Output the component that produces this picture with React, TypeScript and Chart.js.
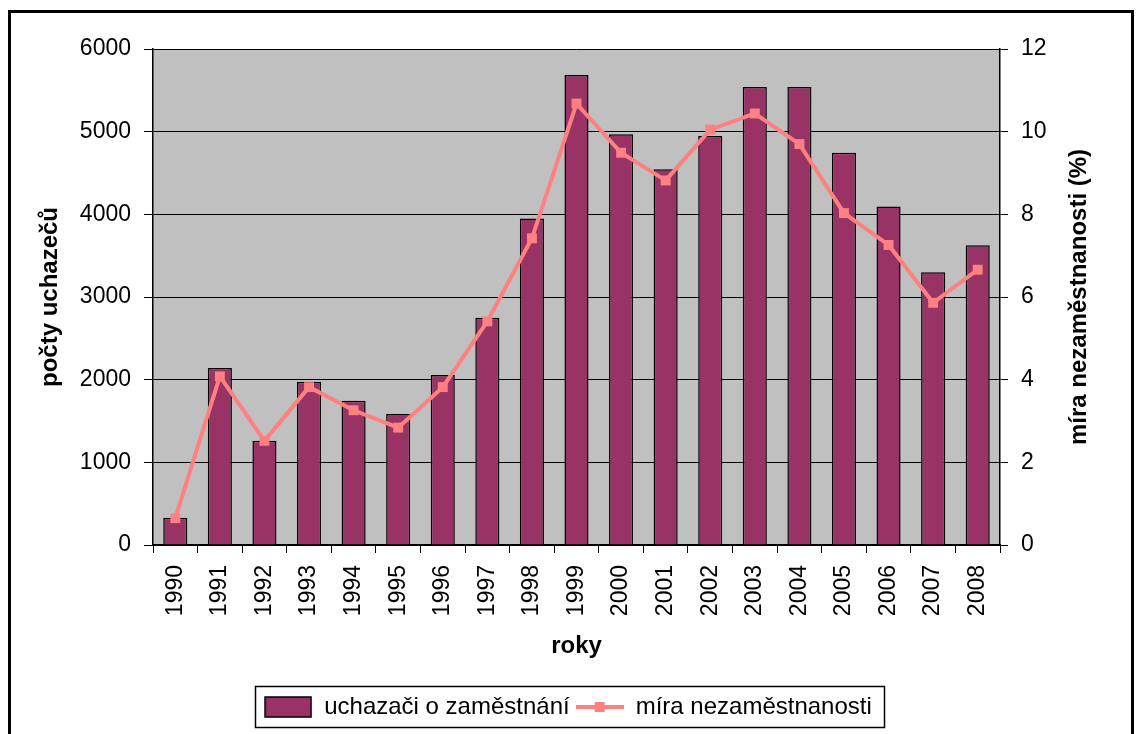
import React, { useEffect, useRef } from "react";
import { Chart, registerables } from "chart.js";

Chart.register(...registerables);

const years = ["1990", "1991", "1992", "1993", "1994", "1995", "1996", "1997", "1998", "1999", "2000", "2001", "2002", "2003", "2004", "2005", "2006", "2007", "2008"];
const applicants = [330, 2140, 1260, 1975, 1745, 1585, 2055, 2750, 3950, 5685, 4968, 4545, 4948, 5540, 5540, 4745, 4095, 3300, 3625];
const unemploymentRate = [0.65, 4.08, 2.52, 3.82, 3.26, 2.84, 3.82, 5.41, 7.42, 10.68, 9.49, 8.82, 10.05, 10.44, 9.7, 8.03, 7.26, 5.86, 6.66];

const barLabel = "uchazači o zaměstnání";
const lineLabel = "míra nezaměstnanosti";
const xTitle = "roky";
const leftTitle = "počty uchazečů";
const rightTitle = "míra nezaměstnanosti (%)";

const FONT = "'Liberation Sans', Arial, sans-serif";
const BAR_COLOR = "#993366";
const LINE_COLOR = "#FF8080";

function makeBarSwatch() {
  const c = document.createElement("canvas");
  c.width = 48;
  c.height = 22;
  const ctx = c.getContext("2d")!;
  ctx.fillStyle = BAR_COLOR;
  ctx.fillRect(1, 1, 46, 20);
  ctx.strokeStyle = "#000";
  ctx.lineWidth = 1.5;
  ctx.strokeRect(1, 1, 46, 20);
  return c;
}

function makeLineSwatch() {
  const c = document.createElement("canvas");
  c.width = 48;
  c.height = 22;
  const ctx = c.getContext("2d")!;
  ctx.strokeStyle = LINE_COLOR;
  ctx.lineWidth = 4;
  ctx.beginPath();
  ctx.moveTo(0, 11);
  ctx.lineTo(48, 11);
  ctx.stroke();
  ctx.fillStyle = LINE_COLOR;
  ctx.fillRect(19, 6, 10, 10);
  return c;
}

const plotBackground = {
  id: "plotBackground",
  beforeDraw(chart: any) {
    const { ctx, chartArea } = chart;
    if (!chartArea) return;
    ctx.save();
    ctx.fillStyle = "#C0C0C0";
    ctx.fillRect(chartArea.left, chartArea.top, chartArea.right - chartArea.left, chartArea.bottom - chartArea.top);
    ctx.restore();
  },
};

const rightAxisTitle = {
  id: "rightAxisTitle",
  afterDraw(chart: any) {
    const { ctx, chartArea } = chart;
    if (!chartArea) return;
    ctx.save();
    ctx.translate(1079, (chartArea.top + chartArea.bottom) / 2);
    ctx.rotate(-Math.PI / 2);
    ctx.font = `bold 24px ${FONT}`;
    ctx.fillStyle = "#000";
    ctx.textAlign = "center";
    ctx.textBaseline = "middle";
    ctx.fillText(rightTitle, 0, 0);
    ctx.restore();
  },
};

const legendFrame = {
  id: "legendFrame",
  afterDraw(chart: any) {
    const legend = chart.legend;
    if (!legend || !legend.legendHitBoxes || !legend.legendHitBoxes.length) return;
    const boxes = legend.legendHitBoxes;
    let left = Infinity, right = -Infinity, top = Infinity, bottom = -Infinity;
    boxes.forEach((b: any) => {
      left = Math.min(left, b.left);
      right = Math.max(right, b.left + b.width);
      top = Math.min(top, b.top);
      bottom = Math.max(bottom, b.top + b.height);
    });
    const cy = (top + bottom) / 2;
    const ctx = chart.ctx;
    ctx.save();
    ctx.strokeStyle = "#000";
    ctx.lineWidth = 1.5;
    ctx.strokeRect(Math.round(left - 9) + 0.5, Math.round(cy - 21) + 0.5, Math.round(right - left + 21), 41);
    ctx.restore();
  },
};

export default function App() {
  const canvasRef = useRef<HTMLCanvasElement | null>(null);

  useEffect(() => {
    const canvas = canvasRef.current;
    if (!canvas) return;
    const barSwatch = makeBarSwatch();
    const lineSwatch = makeLineSwatch();

    const chart = new Chart(canvas, {
      type: "bar",
      data: {
        labels: years,
        datasets: [
          {
            type: "line",
            label: lineLabel,
            data: unemploymentRate,
            yAxisID: "y1",
            borderColor: LINE_COLOR,
            backgroundColor: LINE_COLOR,
            borderWidth: 4,
            pointStyle: "rect",
            pointRadius: 7,
            pointBorderWidth: 0,
            pointBackgroundColor: LINE_COLOR,
            tension: 0,
            order: 0,
          } as any,
          {
            type: "bar",
            label: barLabel,
            data: applicants,
            yAxisID: "y",
            backgroundColor: BAR_COLOR,
            borderColor: "#000",
            borderWidth: 1.5,
            barPercentage: 0.54,
            categoryPercentage: 1,
            order: 1,
          } as any,
        ],
      },
      options: {
        responsive: false,
        animation: false,
        devicePixelRatio: 1,
        layout: { padding: { top: 49, left: 0, right: 0, bottom: 5 } },
        plugins: {
          tooltip: { enabled: false },
          legend: {
            position: "bottom",
            labels: {
              font: { family: FONT, size: 24 },
              color: "#000",
              usePointStyle: true,
              pointStyleWidth: 48,
              boxHeight: 20,
              padding: 6,
              generateLabels: () => [
                { text: barLabel, pointStyle: barSwatch as any, fillStyle: BAR_COLOR, strokeStyle: "#000", lineWidth: 0, hidden: false, datasetIndex: 1, fontColor: "#000" },
                { text: lineLabel, pointStyle: lineSwatch as any, fillStyle: LINE_COLOR, strokeStyle: LINE_COLOR, lineWidth: 0, hidden: false, datasetIndex: 0, fontColor: "#000" },
              ],
            },
          },
        },
        scales: {
          x: {
            type: "category",
            offset: true,
            grid: { display: true, drawOnChartArea: false, offset: true, color: "#000", tickLength: 8, lineWidth: 1 },
            border: { display: true, color: "#000", width: 1.5 },
            ticks: {
              font: { family: FONT, size: 23 },
              color: "#000",
              minRotation: 90,
              maxRotation: 90,
              autoSkip: false,
              padding: 12,
            },
            title: {
              display: true,
              text: xTitle,
              color: "#000",
              font: { family: FONT, size: 24, weight: "bold" },
              padding: { top: 0, bottom: 28.6 },
            },
            afterFit: (s: any) => {
              s.height = 144;
            },
          },
          y: {
            position: "left",
            min: 0,
            max: 6000,
            grid: { color: "#000", tickLength: 9, lineWidth: 1 },
            border: { display: true, color: "#000", width: 1.5 },
            ticks: {
              stepSize: 1000,
              font: { family: FONT, size: 23 },
              color: "#000",
              padding: 13,
              callback: (v: any) => String(v),
            },
            title: {
              display: true,
              text: leftTitle,
              color: "#000",
              font: { family: FONT, size: 24, weight: "bold" },
              padding: { top: 35.6, bottom: 0 },
            },
            afterFit: (s: any) => {
              s.width = 153;
            },
          },
          y1: {
            position: "right",
            min: 0,
            max: 12,
            grid: { drawOnChartArea: false, color: "#000", tickLength: 8, lineWidth: 1 },
            border: { display: true, color: "#000", width: 1.5 },
            ticks: {
              stepSize: 2,
              font: { family: FONT, size: 23 },
              color: "#000",
              padding: 13,
              callback: (v: any) => String(v),
            },
            title: { display: false },
            afterFit: (s: any) => {
              s.width = 136;
            },
          },
        },
      } as any,
      plugins: [plotBackground, legendFrame, rightAxisTitle],
    });

    return () => {
      chart.destroy();
    };
  }, []);

  return (
    <div style={{ position: "fixed", left: 0, top: 0, width: 1136, height: 734, overflow: "hidden", background: "#fff" }}>
      <div
        style={{
          position: "absolute",
          left: 8,
          top: 10,
          width: 1126,
          height: 800,
          boxSizing: "border-box",
          border: "3px solid #000",
        }}
      />
      <canvas ref={canvasRef} width={1136} height={734} style={{ position: "absolute", left: 0, top: 0, width: 1136, height: 734 }} />
    </div>
  );
}
